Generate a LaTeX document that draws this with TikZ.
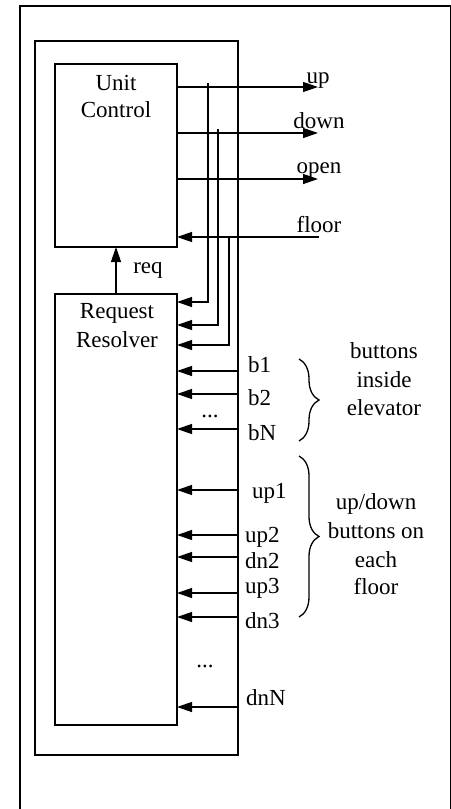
\documentclass[tikz,border=0pt]{standalone}
\usepackage{fontspec}
\setmainfont{Liberation Serif}
\usetikzlibrary{arrows.meta,decorations.pathreplacing}
\begin{document}
\begin{tikzpicture}[x=1bp,y=-1bp,
  lbl/.style={inner sep=0pt, anchor=base, font=\fontsize{23bp}{28bp}\selectfont},
  lblw/.style={lbl, anchor=base west},
  box/.style={draw, line width=1.3bp, inner sep=0pt, outer sep=0pt},
  wire/.style={line width=1.3bp},
  arr/.style={wire, -{Triangle[length=15bp,width=10bp]}},
  brc/.style={line width=1.3bp, decorate, decoration={brace, amplitude=20bp}}]
\useasboundingbox (0,0) rectangle (451,809);
\clip (0,0) rectangle (451,809);
\draw[line width=1.6bp] (20,6) rectangle (450.5,840);
% boxes
\node[box, minimum width=203bp, minimum height=714bp] (inner) at (136.5,398) {};
\node[box, minimum width=122bp, minimum height=183bp] (uc) at (116,155.5) {};
\node[box, minimum width=122bp, minimum height=431bp] (rr) at (116,509.5) {};
% box texts
\node[lbl] (t1) at (116,90) {Unit};
\node[lbl] (t2) at (116,117) {Control};
\node[lbl] (t3) at (117,318) {Request};
\node[lbl] (t4) at (117,347) {Resolver};
% req
\draw[arr] (rr.north) -- (uc.south);
\node[lbl] (treq) at (148,273) {req};
% outputs
\coordinate (upE) at (318,87);
\coordinate (dnE) at (318,133);
\coordinate (opE) at (318,179);
\draw[arr] (uc.east |- upE) -- (upE);
\draw[arr] (uc.east |- dnE) -- (dnE);
\draw[arr] (uc.east |- opE) -- (opE);
\node[lbl] (tup) at (318,83) {up};
\node[lbl] (tdown) at (319,128) {down};
\node[lbl] (topen) at (319,173) {open};
% floor input
\coordinate (flS) at (319,237);
\draw[arr] (flS) -- (flS -| uc.east);
\node[lbl] (tfloor) at (319,232) {floor};
% feedback lines
\coordinate (fa) at (208,83);  \coordinate (fab) at (208,302);
\coordinate (fb) at (218,129); \coordinate (fbb) at (218,325);
\coordinate (fc) at (229,237); \coordinate (fcb) at (229,345);
\draw[arr] (fa) -- (fab) -- (fab -| rr.east);
\draw[arr] (fb) -- (fbb) -- (fbb -| rr.east);
\draw[arr] (fc) -- (fcb) -- (fcb -| rr.east);
% button inputs
\foreach \n/\y in {b1/371, b2/394, bN/429, up1/490, up2/535, dn2/557, up3/593, dn3/617, dnN/707} {
  \coordinate (in\n) at (238,\y);
  \draw[arr] (in\n) -- (in\n -| rr.east);
}
\node[lblw] (lb1) at (248,372) {b1};
\node[lblw] (lb2) at (248,405) {b2};
\node[lblw] (lbN) at (248,440) {bN};
\node[lblw] (lup1) at (252,498) {up1};
\node[lblw] (lup2) at (245,542) {up2};
\node[lblw] (ldn2) at (245,568) {dn2};
\node[lblw] (lup3) at (245,593) {up3};
\node[lblw] (ldn3) at (245,628) {dn3};
\node[lblw] (ldnN) at (246,705) {dnN};
\node[lbl] (dots1) at (210,417) {...};
\node[lbl] (dots2) at (205,667) {...};
% braces
\coordinate (br1a) at (299,359); \coordinate (br1b) at (299,441);
\coordinate (br2a) at (299,456); \coordinate (br2b) at (299,617);
\draw[brc] (br1a) -- (br1b);
\draw[brc] (br2a) -- (br2b);
\node[lbl] (g1a) at (384,358) {buttons};
\node[lbl] (g1b) at (384,387) {inside};
\node[lbl] (g1c) at (384,415) {elevator};
\node[lbl] (g2a) at (376,509) {up/down};
\node[lbl] (g2b) at (376,538) {buttons on};
\node[lbl] (g2c) at (376,567) {each};
\node[lbl] (g2d) at (376,594) {floor};
\end{tikzpicture}
\end{document}
